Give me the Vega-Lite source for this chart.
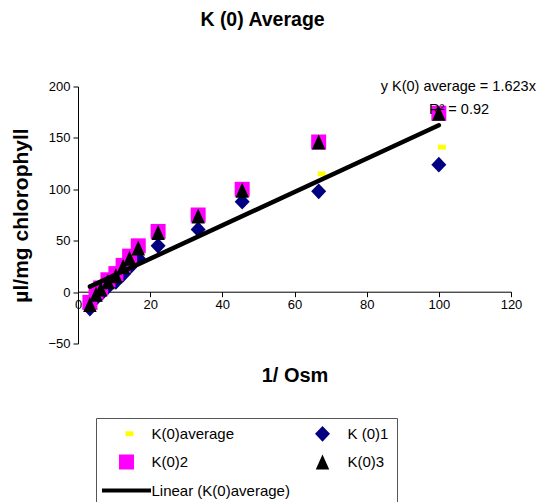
{
  "$schema": "https://vega.github.io/schema/vega-lite/v6.json",
  "width": 433,
  "height": 257,
  "autosize": {"type": "none"},
  "padding": {"left": 78, "top": 86.5, "right": 29, "bottom": 158.5},
  "background": "white",
  "config": {
    "view": {"stroke": null},
    "font": "Liberation Sans",
    "axis": {"grid": false, "domainColor": "black", "tickColor": "black", "labelColor": "black", "labelFontSize": 13, "labelFont": "Liberation Sans", "titleFont": "Liberation Sans", "titleColor": "black", "tickSize": 5, "labelFlush": false, "labelOverlap": false}
  },
  "title": {"text": "K (0) Average", "fontSize": 19.5, "fontWeight": "bold", "font": "Liberation Sans", "color": "black", "anchor": "middle", "dx": -32, "offset": 49},
  "layer": [
    {
      "data": {"values": [
        {"osm": 3.3, "val": -13, "series": "K(0)average"},
        {"osm": 5, "val": -3, "series": "K(0)average"},
        {"osm": 6.3, "val": 1, "series": "K(0)average"},
        {"osm": 8.3, "val": 9, "series": "K(0)average"},
        {"osm": 10.5, "val": 14, "series": "K(0)average"},
        {"osm": 12.5, "val": 22, "series": "K(0)average"},
        {"osm": 14.3, "val": 30, "series": "K(0)average"},
        {"osm": 16.7, "val": 40, "series": "K(0)average"},
        {"osm": 22.2, "val": 54, "series": "K(0)average"},
        {"osm": 33.3, "val": 70, "series": "K(0)average"},
        {"osm": 45.5, "val": 95, "series": "K(0)average"},
        {"osm": 66.7, "val": 115, "series": "K(0)average"},
        {"osm": 100, "val": 141, "series": "K(0)average"},
        {"osm": 3.3, "val": -16, "series": "K (0)1"},
        {"osm": 5, "val": -6, "series": "K (0)1"},
        {"osm": 6.3, "val": -2, "series": "K (0)1"},
        {"osm": 8.3, "val": 5, "series": "K (0)1"},
        {"osm": 10.5, "val": 10, "series": "K (0)1"},
        {"osm": 12.5, "val": 17, "series": "K (0)1"},
        {"osm": 14.3, "val": 24, "series": "K (0)1"},
        {"osm": 16.7, "val": 33, "series": "K (0)1"},
        {"osm": 22.2, "val": 45, "series": "K (0)1"},
        {"osm": 33.3, "val": 61, "series": "K (0)1"},
        {"osm": 45.5, "val": 88, "series": "K (0)1"},
        {"osm": 66.7, "val": 98, "series": "K (0)1"},
        {"osm": 100, "val": 124, "series": "K (0)1"},
        {"osm": 3.3, "val": -10, "series": "K(0)2"},
        {"osm": 5, "val": 0, "series": "K(0)2"},
        {"osm": 6.3, "val": 4, "series": "K(0)2"},
        {"osm": 8.3, "val": 12, "series": "K(0)2"},
        {"osm": 10.5, "val": 18, "series": "K(0)2"},
        {"osm": 12.5, "val": 26, "series": "K(0)2"},
        {"osm": 14.3, "val": 35, "series": "K(0)2"},
        {"osm": 16.7, "val": 45, "series": "K(0)2"},
        {"osm": 22.2, "val": 59, "series": "K(0)2"},
        {"osm": 33.3, "val": 75, "series": "K(0)2"},
        {"osm": 45.5, "val": 100, "series": "K(0)2"},
        {"osm": 66.7, "val": 146, "series": "K(0)2"},
        {"osm": 100, "val": 174, "series": "K(0)2"},
        {"osm": 3.3, "val": -12, "series": "K(0)3"},
        {"osm": 5, "val": -2, "series": "K(0)3"},
        {"osm": 6.3, "val": 3, "series": "K(0)3"},
        {"osm": 8.3, "val": 10, "series": "K(0)3"},
        {"osm": 10.5, "val": 16, "series": "K(0)3"},
        {"osm": 12.5, "val": 25, "series": "K(0)3"},
        {"osm": 14.3, "val": 33, "series": "K(0)3"},
        {"osm": 16.7, "val": 43, "series": "K(0)3"},
        {"osm": 22.2, "val": 58, "series": "K(0)3"},
        {"osm": 33.3, "val": 74, "series": "K(0)3"},
        {"osm": 45.5, "val": 99, "series": "K(0)3"},
        {"osm": 66.7, "val": 146, "series": "K(0)3"},
        {"osm": 100, "val": 174, "series": "K(0)3"}
      ]},
      "mark": {"type": "point", "filled": true, "opacity": 1, "size": 225, "strokeWidth": 0},
      "encoding": {
        "x": {"field": "osm", "type": "quantitative", "scale": {"domain": [0, 120], "nice": false, "zero": false},
          "axis": {"values": [0, 20, 40, 60, 80, 100, 120], "offset": -51.8, "title": "1/ Osm", "titleFontSize": 20, "titleFontWeight": "bold", "titlePadding": 54, "labelPadding": 2}},
        "y": {"field": "val", "type": "quantitative", "scale": {"domain": [-50, 200], "nice": false, "zero": false},
          "axis": {"values": [-50, 0, 50, 100, 150, 200], "title": "µl/mg chlorophyll", "titleFontSize": 21, "titleFontWeight": "bold", "titlePadding": 16, "labelPadding": 3}},
        "color": {"field": "series", "type": "nominal",
          "scale": {"domain": ["K(0)average", "K (0)1", "K(0)2", "K(0)3", "Linear (K(0)average)"], "range": ["#FFFF00", "#000080", "#FF00FF", "#000000", "#000000"]},
          "legend": {"title": null, "orient": "none", "legendX": 18, "legendY": 331.5, "direction": "horizontal", "columns": 2, "gridAlign": "all", "columnPadding": 10, "rowPadding": 12.5, "padding": 8, "symbolOffset": 15, "labelOffset": 17.5, "labelFontSize": 15, "labelFont": "Liberation Sans", "labelColor": "black", "symbolSize": 225, "strokeColor": "#555", "symbolStrokeWidth": 0, "labelLimit": 300}},
        "shape": {"field": "series", "type": "nominal",
          "scale": {"domain": ["K(0)average", "K (0)1", "K(0)2", "K(0)3", "Linear (K(0)average)"], "range": ["M-0.13,-0.33L0.93,-0.33L0.93,0.33L-0.13,0.33Z", "M-1,0L0,-1.05L1,0L0,1.05Z", "square", "M0,-1L0.9,1L-0.9,1Z", "M-3.27,-0.28L3.27,-0.28L3.27,0.28L-3.27,0.28Z"]},
          "legend": {"title": null, "orient": "none", "legendX": 18, "legendY": 331.5, "direction": "horizontal", "columns": 2, "gridAlign": "all", "columnPadding": 10, "rowPadding": 12.5, "padding": 8, "symbolOffset": 15, "labelOffset": 17.5, "labelFontSize": 15, "labelFont": "Liberation Sans", "labelColor": "black", "symbolSize": 225, "strokeColor": "#555", "symbolStrokeWidth": 0, "labelLimit": 300}}
      }
    },
    {
      "data": {"values": [{"osm": 3.3, "val": 5.36}, {"osm": 100, "val": 162.3}]},
      "mark": {"type": "line", "color": "black", "strokeWidth": 4.5, "strokeCap": "round"},
      "encoding": {
        "x": {"field": "osm", "type": "quantitative"},
        "y": {"field": "val", "type": "quantitative"}
      }
    },
    {
      "data": {"values": [{"osm": 105.4, "val": 199.5, "label": "y K(0) average = 1.623x"}, {"osm": 105.6, "val": 177, "label": "R² = 0.92"}]},
      "mark": {"type": "text", "fontSize": 14.5, "font": "Liberation Sans", "color": "black"},
      "encoding": {
        "x": {"field": "osm", "type": "quantitative"},
        "y": {"field": "val", "type": "quantitative"},
        "text": {"field": "label"}
      }
    }
  ]
}
